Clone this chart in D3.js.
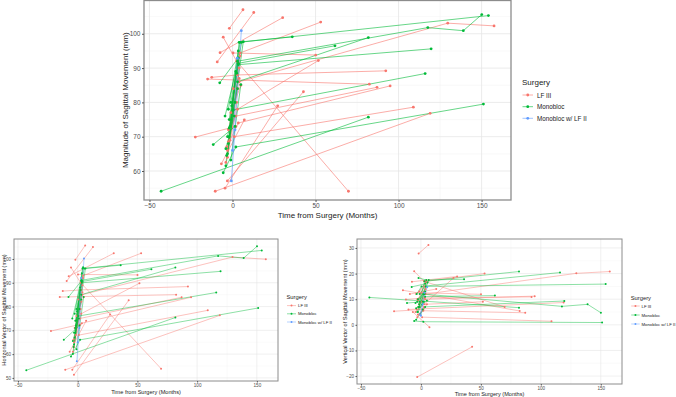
<!DOCTYPE html>
<html>
<head>
<meta charset="utf-8">
<script src="https://cdn.jsdelivr.net/npm/d3@7"></script>
<style>
  body { margin: 0; background: #fff; }
  svg { display: block; font-family: "Liberation Sans", Arial, sans-serif; }
</style>
</head>
<body>
<svg id="chart" width="676" height="397"></svg>
<script>
const surgeryLevels = ["LF III", "Monobloc", "Monobloc w/ LF II"];
const surgeryColors = ["#F8766D", "#00BA38", "#619CFF"];
const xTicks = [-50, 0, 50, 100, 150];
const xMinor = [-25, 25, 75, 125];

// one entry per patient
const surgery = [
  "LF III", "LF III", "LF III", "LF III", "LF III", "LF III", "LF III", "LF III", "LF III",
  "LF III", "LF III", "LF III", "LF III", "LF III", "LF III", "LF III", "LF III", "LF III",
  "LF III", "LF III", "LF III", "LF III", "LF III", "LF III", "LF III",
  "Monobloc", "Monobloc", "Monobloc", "Monobloc", "Monobloc", "Monobloc", "Monobloc",
  "Monobloc", "Monobloc", "Monobloc", "Monobloc", "Monobloc", "Monobloc", "Monobloc",
  "Monobloc", "Monobloc", "Monobloc", "Monobloc", "Monobloc", "Monobloc",
  "Monobloc w/ LF II", "Monobloc w/ LF II"
];
const months = [
  [-1.9, 6.3], [-9.2, 12.8], [-7.5, 30.2], [0.5, 4.5, 53.1], [-5.6, 2.5, 69.8], [0.3, 50.1],
  [-3.5, 3, 51.7], [-12.5, 3, 92.3], [-15, 82.4], [-2.5, 2, 87], [-1.5, 3.5, 94.9], [-3.1, 42.7],
  [-4.5, 27.2], [1, 108.9], [-10.4, 119], [-6.7, 7.1], [-22.4, 2], [4, 129.6, 157.5],
  [-4, 3], [-3, 4], [-2, 3.5], [-1, 5], [-2.5, 4], [-3, 2.5], [-1.5, 4.5],
  [-2, 3, 117.6, 139, 150.1], [-1, 4, 154.1], [-3, 6.5, 36], [-1.5, 3, 81.8], [-2, 3.5, 61.7],
  [-0.5, 3.5, 119.6], [-3.5, 0.5, 116], [-43, 81.8], [-5.6, 2, 151.1], [-11.6, 1.5], [-7.7, 3.5],
  [-2, 4.5], [-3, 3], [-1, 5], [-4.5, 2], [-2.5, 3.5], [-4, 1.5], [-2.5, 2.5], [-1, 5.5], [-4, 1],
  [-0.7, 1.5, 5.3], [0, 2.9]
];
const magnitude = [
  [101.6, 107], [91.8, 106.2], [94.5, 104.7], [84, 94.4, 103.4], [99, 92, 54.1], [94.4, 93.8],
  [67, 78, 92.2], [87.3, 88, 89.2], [86.8, 85.3], [72, 76, 84.4], [69, 74, 84.8], [57.1, 83.1],
  [55, 79], [70, 78.6], [54.1, 76.8], [62.1, 74.9], [69.9, 73], [86, 103.1, 102.3],
  [62.5, 84], [66, 90], [72.5, 91.5], [77, 85], [68.5, 87], [64, 80], [75, 93.5],
  [70, 92, 101.8, 100.9, 105.6], [75, 97.5, 105.3], [65, 97.7, 99.1], [73, 86, 98.9], [75, 91.4, 96.5],
  [79, 91, 95.6], [64.5, 77.8, 88.4], [54.1, 75.7], [59.5, 67, 79.5], [67.7, 73], [85.7, 93],
  [72.5, 97.5], [70, 84], [63.2, 85.2], [76, 89], [78, 95], [61.5, 80], [68, 88.5], [80, 97.5], [66.5, 76],
  [57.1, 72, 100.9], [66, 92.9]
];
const horizontal = [
  [99.7, 105.7], [90.7, 105], [92.7, 102.4], [83, 93, 102.4], [96.4, 90, 53.9], [93.5, 93.3],
  [66, 77, 89.8], [86.5, 87, 88.4], [84, 85], [71, 75, 83.9], [68, 73, 83.9], [51.3, 82.6],
  [53.4, 76.7], [68, 78.4], [53.4, 76.3], [61, 74], [69.7, 72.5], [85, 100.8, 99.9],
  [61, 82], [65, 89], [71, 90], [76, 84], [67, 86], [63, 79], [74, 92],
  [69, 91, 101.3, 100.4, 105.3], [74, 96, 103.6], [64, 96, 97.4], [72, 85, 96.4], [74, 90.5, 95.7],
  [78, 90, 94.8], [63, 76, 85.9], [53.2, 75.4], [59, 66, 79.4], [66, 72], [84, 91],
  [71, 96.5], [69, 83], [62, 84], [75, 88], [77, 94], [60, 79], [67, 87], [79, 96], [65.5, 75],
  [57, 71, 100.2], [65, 92]
];
const vertical = [
  [27.8, 31.2], [12, 14], [16.8, 18.9], [9, 17, 20], [20.9, 17, 7], [12.5, 11.9],
  [6, 8, 9], [9.9, 10.5, 10.9], [13.5, 5.4], [4, 5.5, 4.7], [8, 10, 11.2], [-20.4, -8.6],
  [5, 18.3], [3, 1.4], [6, 8.7], [5, -0.9], [5.3, 6], [12, 20.1, 20.8],
  [12, 15], [10, 14], [7, 12], [4, 8], [9.5, 16.5], [3, 7], [13, 17],
  [7, 12, 7.2, 8, 4.7], [9, 15, 15.9], [5, 17.5, 17.8], [8, 17, 20.8], [7, 11, 11.4],
  [4, 7, 9.3], [12, 15, 20.4], [10.7, 6.7], [1.5, 1.2, 0.9], [8.5, 9], [14.8, 16],
  [18.3, 17.5], [9, 12], [7, 9.5], [8.5, 12], [10, 13], [2, 6], [5, 9], [12, 16.5], [6.5, 8],
  [4, 8, 14.8], [3.5, 12.5]
];

const xDomain = [-53.3, 167.7];
const color = d3.scaleOrdinal().domain(surgeryLevels).range(surgeryColors);
const svg = d3.select("#chart");

function drawPanel(cfg) {
  const x = d3.scaleLinear().domain(xDomain).range([cfg.left, cfg.right]);
  const y = d3.scaleLinear().domain(cfg.yDomain).range([cfg.bottom, cfg.top]);
  const g = svg.append("g");

  // grid, minor first
  g.selectAll(".xm").data(xMinor).join("line")
    .attr("x1", d => x(d)).attr("x2", d => x(d))
    .attr("y1", cfg.top).attr("y2", cfg.bottom)
    .attr("stroke", "#F2F2F2").attr("stroke-width", cfg.gridW * 0.6);
  g.selectAll(".ym").data(cfg.yMinor).join("line")
    .attr("y1", d => y(d)).attr("y2", d => y(d))
    .attr("x1", cfg.left).attr("x2", cfg.right)
    .attr("stroke", "#F2F2F2").attr("stroke-width", cfg.gridW * 0.6);
  g.selectAll(".xg").data(xTicks).join("line")
    .attr("x1", d => x(d)).attr("x2", d => x(d))
    .attr("y1", cfg.top).attr("y2", cfg.bottom)
    .attr("stroke", "#E6E6E6").attr("stroke-width", cfg.gridW);
  g.selectAll(".yg").data(cfg.yTicks).join("line")
    .attr("y1", d => y(d)).attr("y2", d => y(d))
    .attr("x1", cfg.left).attr("x2", cfg.right)
    .attr("stroke", "#E6E6E6").attr("stroke-width", cfg.gridW);

  const series = surgery.map((s, i) => ({
    s: s,
    pts: months[i].map((t, j) => [t, cfg.values[i][j]])
  }));

  const line = d3.line().x(d => x(d[0])).y(d => y(d[1]));
  g.selectAll(".ln").data(series).join("path")
    .attr("d", d => line(d.pts))
    .attr("fill", "none")
    .attr("stroke", d => color(d.s))
    .attr("stroke-opacity", 0.75)
    .attr("stroke-width", cfg.lineW);

  const allPts = series.flatMap(d => d.pts.map(p => ({ s: d.s, p: p })));
  g.selectAll(".pt").data(allPts).join("circle")
    .attr("cx", d => x(d.p[0]))
    .attr("cy", d => y(d.p[1]))
    .attr("r", cfg.pointR)
    .attr("fill", d => color(d.s));

  // border
  g.append("rect")
    .attr("x", cfg.left).attr("y", cfg.top)
    .attr("width", cfg.right - cfg.left).attr("height", cfg.bottom - cfg.top)
    .attr("fill", "none").attr("stroke", "#8C8C8C").attr("stroke-width", cfg.borderW);

  // axes
  const ax = g.append("g")
    .attr("transform", "translate(0," + cfg.bottom + ")")
    .call(d3.axisBottom(x).tickValues(xTicks).tickSize(cfg.tick).tickPadding(1));
  const ay = g.append("g")
    .attr("transform", "translate(" + cfg.left + ",0)")
    .call(d3.axisLeft(y).tickValues(cfg.yTicks).tickSize(cfg.tick).tickPadding(1.5));
  [ax, ay].forEach(a => {
    a.select(".domain").remove();
    a.selectAll("line").attr("stroke", "#555");
    a.selectAll("text")
      .attr("fill", "#4D4D4D")
      .style("font-size", cfg.tickFont + "px")
      .style("font-family", "'Liberation Sans', Arial, sans-serif");
  });

  g.append("text")
    .attr("x", (cfg.left + cfg.right) / 2)
    .attr("y", cfg.xTitleY)
    .attr("text-anchor", "middle")
    .attr("dominant-baseline", "central")
    .attr("fill", "#222")
    .style("font-size", cfg.titleFont + "px")
    .text("Time from Surgery (Months)");

  g.append("text")
    .attr("transform", "translate(" + cfg.yTitleX + "," + (cfg.top + cfg.bottom) / 2 + ") rotate(-90)")
    .attr("text-anchor", "middle")
    .attr("dominant-baseline", "central")
    .attr("fill", "#222")
    .style("font-size", cfg.titleFont + "px")
    .text(cfg.yTitle);

  // legend
  const L = cfg.legend;
  g.append("text")
    .attr("x", L.x).attr("y", L.titleY)
    .attr("dominant-baseline", "central")
    .attr("fill", "#222")
    .style("font-size", L.titleFont + "px")
    .text("Surgery");
  surgeryLevels.forEach((s, i) => {
    const yy = L.itemY[i];
    g.append("line")
      .attr("x1", L.x + 0.5).attr("x2", L.x + L.keyW)
      .attr("y1", yy).attr("y2", yy)
      .attr("stroke", color(s)).attr("stroke-opacity", 0.75)
      .attr("stroke-width", cfg.lineW);
    g.append("circle")
      .attr("cx", L.x + L.keyW / 2 + 0.25).attr("cy", yy)
      .attr("r", cfg.pointR)
      .attr("fill", color(s));
    g.append("text")
      .attr("x", L.x + L.keyW + L.gap).attr("y", yy)
      .attr("dominant-baseline", "central")
      .attr("fill", "#222")
      .style("font-size", L.font + "px")
      .text(s);
  });
}

drawPanel({
  left: 144, right: 511, top: 0.5, bottom: 200,
  yDomain: [51.55, 109.7], yTicks: [60, 70, 80, 90, 100], yMinor: [55, 65, 75, 85, 95, 105],
  values: magnitude, yTitle: "Magnitude of Sagittal Movement (mm)",
  yTitleX: 125.5, xTitleY: 215, titleFont: 8, tickFont: 6.5, tick: 2,
  gridW: 0.8, lineW: 0.8, pointR: 1.4, borderW: 1.3,
  legend: { x: 522, titleY: 82, itemY: [95, 106.7, 118.3], keyW: 11, gap: 4, titleFont: 8, font: 6.3 }
});

drawPanel({
  left: 14, right: 278, top: 239, bottom: 381,
  yDomain: [48.7, 108.4], yTicks: [50, 60, 70, 80, 90, 100], yMinor: [55, 65, 75, 85, 95, 105],
  values: horizontal, yTitle: "Horizontal Vector of Sagittal Movement (mm)",
  yTitleX: 3.5, xTitleY: 392.3, titleFont: 5.6, tickFont: 4.6, tick: 1.5,
  gridW: 0.6, lineW: 0.6, pointR: 1.0, borderW: 1,
  legend: { x: 286.5, titleY: 296.7, itemY: [305.6, 313.8, 322], keyW: 9.5, gap: 2, titleFont: 5.8, font: 4.3 }
});

drawPanel({
  left: 357, right: 622, top: 239, bottom: 384,
  yDomain: [-23.1, 33.5], yTicks: [-20, -10, 0, 10, 20, 30], yMinor: [-15, -5, 5, 15, 25],
  values: vertical, yTitle: "Vertical Vector of Sagittal Movement (mm)",
  yTitleX: 345.3, xTitleY: 394, titleFont: 5.6, tickFont: 4.6, tick: 1.5,
  gridW: 0.6, lineW: 0.6, pointR: 1.0, borderW: 1,
  legend: { x: 630.7, titleY: 298.3, itemY: [306, 315, 324], keyW: 9, gap: 1.8, titleFont: 5.8, font: 4.3 }
});
</script>
</body>
</html>
